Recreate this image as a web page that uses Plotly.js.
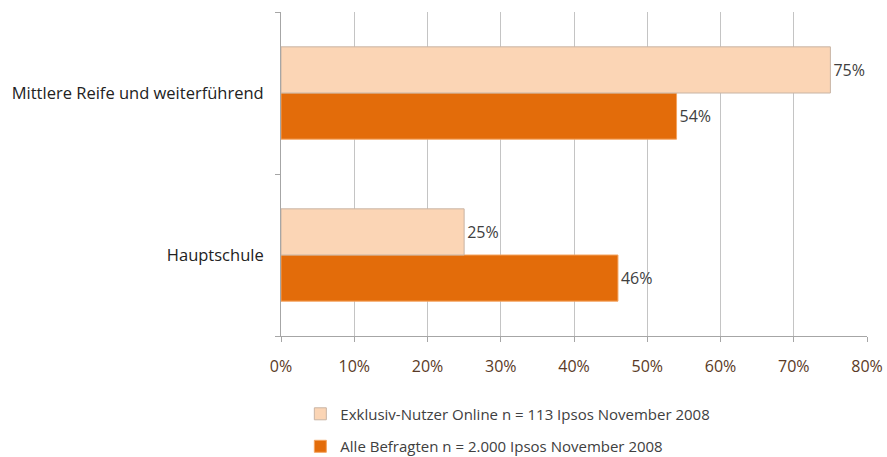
<!DOCTYPE html>
<html><head><meta charset="utf-8">
<script src="https://cdn.plot.ly/plotly-3.0.1.min.js"></script>
<style>body{margin:0;background:#fff}#chart{width:887px;height:457px}</style>
</head><body><div id="chart"></div>
<script>
const categories = ["Hauptschule", "Mittlere Reife und weiterführend"];
const exklusivNutzer = [25, 75];
const alleBefragten = [46, 54];
const seriesNames = ["Exklusiv-Nutzer Online n = 113 Ipsos November 2008", "Alle Befragten n = 2.000 Ipsos November 2008"];
const tickVals = [0, 10, 20, 30, 40, 50, 60, 70, 80];

const font = "'Open Sans', Lato, sans-serif";
const traces = [
  {type:'bar', orientation:'h', name: seriesNames[1], y: categories, x: alleBefragten,
   marker:{color:'#E36C0A', line:{color:'#F4A460', width:1}},
   text: alleBefragten.map(v=>v+'%'), textposition:'outside', cliponaxis:false,
   textfont:{size:16, color:'#404040', family:font}, legendgroup:'b', legendrank:2, hoverinfo:'x'},
  {type:'bar', orientation:'h', name: seriesNames[0], y: categories, x: exklusivNutzer,
   marker:{color:'#FBD5B5', line:{color:'#C8B4A4', width:1}},
   text: exklusivNutzer.map(v=>v+'%'), textposition:'outside', cliponaxis:false,
   textfont:{size:16, color:'#404040', family:font}, legendgroup:'a', legendrank:1, hoverinfo:'x'}
];
const layout = {
  width:887, height:457,
  margin:{l:281, r:20, t:12, b:121, autoexpand:false},
  paper_bgcolor:'#fff', plot_bgcolor:'#fff',
  barmode:'group', bargap:0.43, bargroupgap:0,
  font:{family:font, size:15, color:'#222'},
  xaxis:{range:[0,80], tickvals:tickVals, ticktext:tickVals.map(v=>v+'%'),
    showgrid:true, gridcolor:'#c4c4c4', gridwidth:1, zeroline:false,
    showline:true, linecolor:'#a6a6a6', ticks:'outside', ticklen:5, tickcolor:'#a6a6a6',
    ticklabelstandoff:11,
    tickfont:{size:16, color:'#5a3a26', family:font}, fixedrange:true},
  yaxis:{type:'category', showline:true, linecolor:'#a6a6a6', ticks:'outside', ticklen:5,
    tickcolor:'#a6a6a6', tickson:'boundaries', showgrid:false, zeroline:false,
    ticklabelstandoff:13,
    tickfont:{size:16.5, color:'#222', family:font}, fixedrange:true},
  showlegend:true,
  legend:{orientation:'v', traceorder:'grouped', x:0.033, xanchor:'left', y:-0.19, yanchor:'top',
    itemwidth:30, font:{size:15, color:'#404040', family:font}, tracegroupgap:10, bgcolor:'rgba(0,0,0,0)'}
};
Plotly.newPlot('chart', traces, layout, {displayModeBar:false, staticPlot:true});
</script></body></html>
